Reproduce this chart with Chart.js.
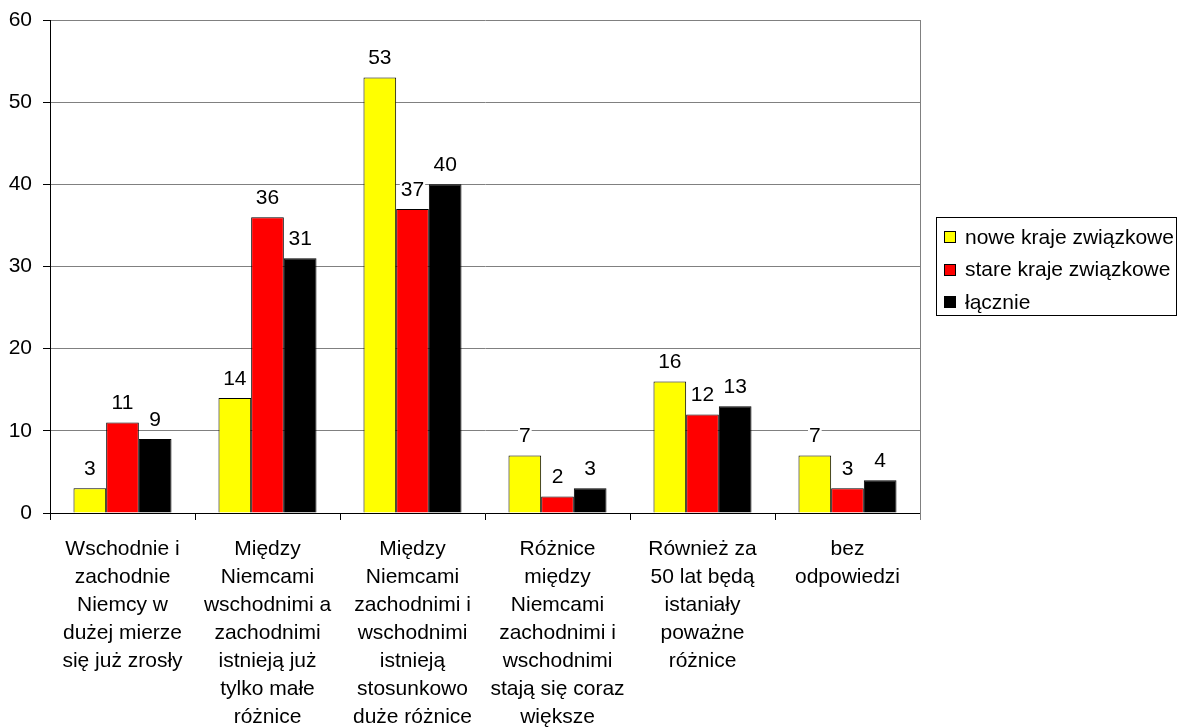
<!DOCTYPE html>
<html>
<head>
<meta charset="utf-8">
<script src="https://cdn.jsdelivr.net/npm/chart.js@4/dist/chart.umd.min.js"></script>
<style>
  html, body { margin: 0; padding: 0; background: #fff; }
  #wrap { width: 1177px; height: 728px; }
</style>
</head>
<body>
<div id="wrap"><canvas id="c" width="1177" height="728"></canvas></div>
<script>
// Survey answers (percent) per category
const categories = [
  ["Wschodnie i", "zachodnie", "Niemcy w", "dużej mierze", "się już zrosły"],
  ["Między", "Niemcami", "wschodnimi a", "zachodnimi", "istnieją już", "tylko małe", "różnice"],
  ["Między", "Niemcami", "zachodnimi i", "wschodnimi", "istnieją", "stosunkowo", "duże różnice"],
  ["Różnice", "między", "Niemcami", "zachodnimi i", "wschodnimi", "stają się coraz", "większe"],
  ["Również za", "50 lat będą", "istaniały", "poważne", "różnice"],
  ["bez", "odpowiedzi"]
];
const seriesNames = ["nowe kraje związkowe", "stare kraje związkowe", "łącznie"];
const noweKraje = [3, 14, 53, 7, 16, 7];
const stareKraje = [11, 36, 37, 2, 12, 3];
const lacznie = [9, 31, 40, 3, 13, 4];
const yTicks = [0, 10, 20, 30, 40, 50, 60];

const FONT = "'Liberation Sans', Arial, sans-serif";
const FS = 21;

// Value labels above each bar
const valueLabels = {
  id: 'valueLabels',
  afterDatasetsDraw(chart) {
    const ctx = chart.ctx;
    ctx.save();
    ctx.font = FS + 'px ' + FONT;
    ctx.textAlign = 'center';
    ctx.textBaseline = 'middle';
    chart.data.datasets.forEach((ds, i) => {
      chart.getDatasetMeta(i).data.forEach((bar, j) => {
        const txt = String(ds.data[j]);
        const y = bar.y - 20;
        const w = ctx.measureText(txt).width;
        ctx.fillStyle = '#fff';
        ctx.fillRect(bar.x - w / 2 - 1, y - 10, w + 2, 20);
        ctx.fillStyle = '#000';
        ctx.fillText(txt, bar.x, y + 1);
      });
    });
    ctx.restore();
  }
};

// Right edge of the plot frame and the boxed legend
const frameAndLegend = {
  id: 'frameAndLegend',
  afterDraw(chart) {
    const ctx = chart.ctx;
    const a = chart.chartArea;
    ctx.save();
    ctx.strokeStyle = '#808080';
    ctx.lineWidth = 1;
    ctx.beginPath();
    ctx.moveTo(Math.round(a.right) + 0.5, a.top);
    ctx.lineTo(Math.round(a.right) + 0.5, a.bottom + 7);
    ctx.stroke();

    // legend box
    const bx = 936.5, by = 217.5, bw = 240, bh = 98;
    ctx.strokeStyle = '#000';
    ctx.strokeRect(bx, by, bw, bh);
    ctx.font = FS + 'px ' + FONT;
    ctx.textBaseline = 'middle';
    ctx.textAlign = 'left';
    chart.data.datasets.forEach((ds, i) => {
      const cy = 237 + i * 32.5;
      ctx.fillStyle = ds.backgroundColor;
      ctx.fillRect(944, Math.round(cy - 6), 12, 12);
      ctx.strokeStyle = '#000';
      ctx.strokeRect(944.5, Math.round(cy - 6) + 0.5, 11, 11);
      ctx.fillStyle = '#000';
      ctx.fillText(ds.label, 965, cy + 1);
    });
    ctx.restore();
  }
};

const mkSet = (label, data, color) => ({
  label, data,
  backgroundColor: color,
  borderColor: '#000',
  borderWidth: 1,
  barPercentage: 1,
  categoryPercentage: 0.676
});

new Chart(document.getElementById('c'), {
  type: 'bar',
  data: {
    labels: categories,
    datasets: [
      mkSet(seriesNames[0], noweKraje, '#ffff00'),
      mkSet(seriesNames[1], stareKraje, '#ff0000'),
      mkSet(seriesNames[2], lacznie, '#000000')
    ]
  },
  options: {
    responsive: false,
    animation: false,
    layout: { padding: { top: 20, right: 257, left: 0, bottom: 0 } },
    plugins: { legend: { display: false }, tooltip: { enabled: false } },
    scales: {
      x: {
        grid: { offset: true, drawOnChartArea: false, tickLength: 7, tickColor: '#000' },
        border: { color: '#000' },
        ticks: {
          color: '#000',
          font: { family: FONT, size: FS, lineHeight: 28 / FS },
          maxRotation: 0, autoSkip: false, padding: 15
        },
        afterFit(s) { s.height = 215; s.paddingLeft = 0; s.paddingRight = 0; }
      },
      y: {
        min: 0, max: 60,
        afterBuildTicks(s) { s.ticks = yTicks.map(v => ({ value: v })); },
        grid: { color: '#808080', tickColor: '#000', tickLength: 7 },
        border: { color: '#000' },
        ticks: { color: '#000', font: { family: FONT, size: FS }, padding: 11 },
        afterFit(s) { s.width = 50; s.paddingTop = 0; s.paddingBottom = 0; }
      }
    }
  },
  plugins: [valueLabels, frameAndLegend]
});
</script>
</body>
</html>
